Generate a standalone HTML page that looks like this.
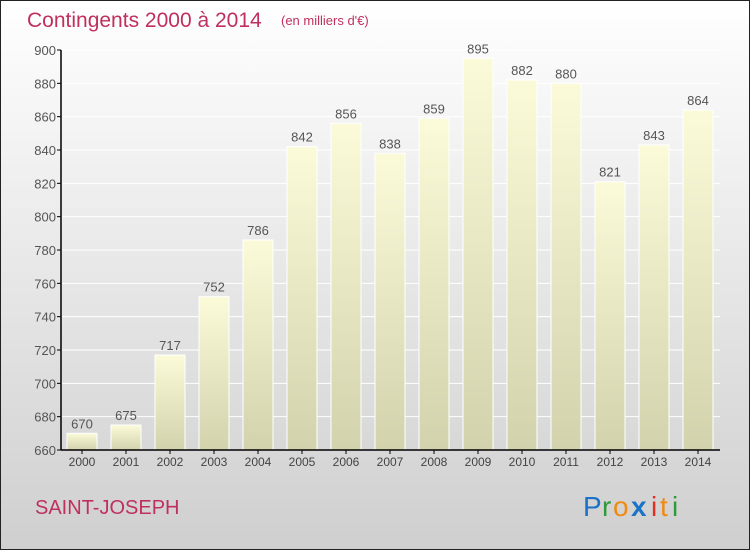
<!DOCTYPE html>
<html><head><meta charset="utf-8"><style>
body{margin:0;width:750px;height:550px;overflow:hidden;font-family:"Liberation Sans",sans-serif}
</style></head><body>
<svg width="750" height="550" xmlns="http://www.w3.org/2000/svg">
<defs>
<linearGradient id="bg" x1="0" y1="0" x2="0" y2="1"><stop offset="0" stop-color="#ffffff"/><stop offset="1" stop-color="#cfcfcf"/></linearGradient>
<linearGradient id="bar" x1="0" y1="0" x2="0" y2="1"><stop offset="0" stop-color="#fbfbd9"/><stop offset="1" stop-color="#d2d2ad"/></linearGradient>
</defs>
<rect x="0.5" y="0.5" width="749" height="549" fill="url(#bg)" stroke="#222"/>
<text x="27" y="27" font-size="21" fill="#c0305e">Contingents 2000 à 2014</text>
<text x="281" y="25" font-size="13" fill="#c0305e">(en milliers d'€)</text>
<g id="plot"></g>
<text x="35" y="514" font-size="20" fill="#c0305e">SAINT-JOSEPH</text>
<g font-size="28" font-family="Liberation Sans, sans-serif">
<text x="583" y="516" fill="#1a73c8">P</text><text x="602" y="516" fill="#2e9a3a">r</text><text x="613" y="516" fill="#f08a10">o</text><text x="631" y="516" fill="#1a73c8" font-weight="bold">x</text><text x="651" y="516" fill="#e03020">i</text><text x="660" y="516" fill="#f08a10">t</text><text x="672" y="516" fill="#2e9a3a">i</text>
</g>
</svg>
<script>
const years=["2000","2001","2002","2003","2004","2005","2006","2007","2008","2009","2010","2011","2012","2013","2014"];
const values=[670,675,717,752,786,842,856,838,859,895,882,880,821,843,864];
const yTicks=[660,680,700,720,740,760,780,800,820,840,860,880,900];
const NS="http://www.w3.org/2000/svg";
const g=document.getElementById('plot');
const x0=61,slot=44,yMin=660,yMax=900,yTop=50,yBot=450;
const y=v=>yBot-(v-yMin)/(yMax-yMin)*(yBot-yTop);
const xc=i=>x0+slot/2+i*slot-1;
function mk(t,a,txt){const e=document.createElementNS(NS,t);for(const k in a)e.setAttribute(k,a[k]);if(txt!==undefined)e.textContent=txt;g.appendChild(e);return e;}
yTicks.forEach(v=>{
 const l=mk('line',{x1:x0,x2:720,y1:y(v),y2:y(v),stroke:'#fff','stroke-width':1});
 
 
 const t=mk('line',{x1:x0-4,x2:x0,y1:y(v),y2:y(v),stroke:'#000'});
 
 
 const tx=mk('text',{x:x0-5,y:y(v)+5,'text-anchor':'end','font-size':13,fill:'#555'},v);
 
 
});
values.forEach((v,i)=>{
 const b=mk('rect',{x:xc(i)-15,y:y(v),width:30,height:yBot-y(v),fill:'url(#bar)',stroke:'#fff','stroke-width':1});
 
 
 const lb=mk('text',{x:xc(i),y:y(v)-5,'text-anchor':'middle','font-size':13,fill:'#555'},v);
 
 
 const xt=mk('text',{x:xc(i),y:466,'text-anchor':'middle','font-size':12,fill:'#444'},years[i]);
 
 
 const tk=mk('line',{x1:xc(i),x2:xc(i),y1:yBot,y2:yBot+4,stroke:'#000'});
 
 
});
const ya=mk('line',{x1:x0,x2:x0,y1:yTop,y2:yBot,stroke:'#000','stroke-width':1.5});


const xa=mk('line',{x1:x0,x2:720,y1:yBot,y2:yBot,stroke:'#000','stroke-width':1.5});


</script>
</body></html>
